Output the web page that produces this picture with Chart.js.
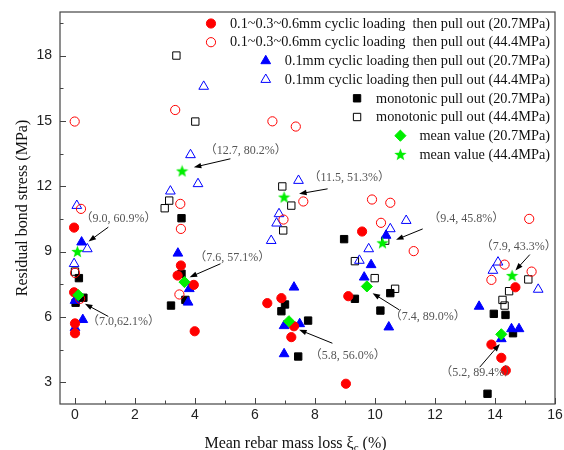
<!DOCTYPE html>
<html>
<head>
<meta charset="utf-8">
<script src="https://cdn.jsdelivr.net/npm/chart.js@4.4.1/dist/chart.umd.min.js"></script>
<style>
  body { margin: 0; background: #fff; }
  #wrap { width: 564px; height: 450px; }
</style>
</head>
<body>
<div id="wrap"><canvas id="myChart"></canvas></div>
<script>
// axis ticks
const xTicks = [0, 2, 4, 6, 8, 10, 12, 14, 16];
const xMinorTicks = [1, 3, 5, 7, 9, 11, 13, 15];
const yTicks = [3, 6, 9, 12, 15, 18];
const yMinorTicks = [4.5, 7.5, 10.5, 13.5, 16.5, 19.5];

// 0.1~0.3~0.6mm cyclic loading then pull out (20.7MPa)
const cyc3LowX = [-0.03, -0.03, 0.0, 0.0, 3.53, 3.42, 3.96, 3.99, 6.41, 6.88, 7.3, 7.21, 9.11, 9.03, 9.57, 14.68, 13.88, 14.21, 14.36];
const cyc3LowY = [10.1, 7.13, 5.7, 5.25, 8.36, 7.9, 7.47, 5.34, 6.63, 6.86, 5.57, 5.07, 6.95, 2.93, 9.92, 7.36, 4.73, 4.12, 3.54];
// 0.1~0.3~0.6mm cyclic loading then pull out (44.4MPa)
const cyc3HighX = [-0.01, 0.2, 0.0, 0.17, 3.34, 3.51, 3.53, 3.48, 6.58, 7.36, 7.61, 6.95, 9.9, 10.51, 10.2, 11.29, 15.14, 14.32, 13.88, 15.22];
const cyc3HighY = [14.97, 10.96, 8.02, 6.83, 15.5, 11.19, 10.04, 7.03, 14.98, 14.74, 11.3, 10.47, 11.39, 11.24, 10.32, 9.02, 10.5, 8.4, 7.7, 8.08];
// 0.1mm cyclic loading then pull out (20.7MPa)
const cyc1LowX = [0.22, 0.0, 0.26, 0.0, 3.43, 3.81, 3.77, 7.3, 6.97, 7.49, 6.97, 10.37, 9.87, 9.64, 10.46, 13.47, 14.55, 14.8, 14.21];
const cyc1LowY = [9.43, 6.75, 5.87, 5.5, 8.92, 7.29, 6.67, 7.36, 5.59, 5.68, 4.3, 9.74, 8.39, 7.82, 5.53, 6.48, 5.45, 5.45, 4.99];
// 0.1mm cyclic loading then pull out (44.4MPa)
const cyc1HighX = [0.06, 0.41, -0.03, 4.29, 3.85, 4.1, 3.18, 7.45, 6.8, 6.72, 6.54, 11.04, 10.51, 9.79, 9.48, 14.1, 13.93, 15.44];
const cyc1HighY = [11.11, 9.12, 8.44, 16.58, 13.44, 12.11, 11.77, 12.26, 10.73, 10.3, 9.5, 10.42, 10.04, 9.12, 8.59, 8.51, 8.13, 7.26];
// monotonic pull out (20.7MPa)
const monoLowX = [0.13, 0.28, 0.02, 3.55, 3.55, 3.68, 3.2, 7.0, 6.88, 7.77, 7.44, 8.97, 9.33, 10.51, 10.18, 13.96, 14.35, 14.6, 13.75];
const monoLowY = [7.78, 6.88, 6.65, 10.53, 7.98, 6.78, 6.52, 6.57, 6.26, 5.83, 4.18, 9.57, 6.83, 7.09, 6.29, 6.14, 6.09, 5.25, 2.47];
// monotonic pull out (44.4MPa)
const monoHighX = [0.0, 3.38, 4.01, 3.14, 2.99, 6.91, 7.21, 6.94, 10.34, 9.33, 9.99, 10.67, 15.11, 14.47, 14.25, 14.32];
const monoHighY = [8.08, 18.0, 14.97, 11.34, 10.99, 11.99, 11.11, 9.97, 9.5, 8.56, 7.78, 7.29, 7.72, 7.18, 6.78, 6.52];
// mean values
const meanLowX = [0.11, 3.65, 7.13, 9.73, 14.21];
const meanLowY = [7.0, 7.6, 5.8, 7.4, 5.2];
const meanHighX = [0.08, 3.57, 6.97, 10.25, 14.57];
const meanHighY = [9.0, 12.7, 11.5, 9.4, 7.9];

const seriesLabels = [
  "0.1~0.3~0.6mm cyclic loading  then pull out (20.7MPa)",
  "0.1~0.3~0.6mm cyclic loading  then pull out (44.4MPa)",
  "0.1mm cyclic loading then pull out (20.7MPa)",
  "0.1mm cyclic loading then pull out (44.4MPa)",
  "monotonic pull out (20.7MPa)",
  "monotonic pull out (44.4MPa)",
  "mean value (20.7MPa)",
  "mean value (44.4MPa)",
];

// label text, text position, arrow from -> to (data units)
const notes = [
  { text: "（9.0, 60.9%）", at: [1.45, 10.5], from: [1.11, 10.12], to: [0.45, 9.46] },
  { text: "（7.0,62.1%）", at: [1.62, 5.75], from: [1.11, 6.02], to: [0.33, 6.6] },
  { text: "（12.7, 80.2%）", at: [5.69, 13.64], from: [5.18, 13.26], to: [3.96, 12.87] },
  { text: "（7.6, 57.1%）", at: [5.24, 8.71], from: [4.85, 8.44], to: [3.82, 7.82] },
  { text: "（11.5, 51.3%）", at: [9.14, 12.38], from: [8.42, 11.88], to: [7.47, 11.65] },
  { text: "（9.4, 45.8%）", at: [13.04, 10.52], from: [11.59, 10.04], to: [10.7, 9.54] },
  { text: "（7.4, 89.0%）", at: [11.76, 6.02], from: [10.81, 6.32], to: [9.92, 7.09] },
  { text: "（5.8, 56.0%）", at: [9.09, 4.23], from: [8.58, 4.79], to: [7.47, 5.41] },
  { text: "（7.9, 43.3%）", at: [14.79, 9.23], from: [15.16, 8.86], to: [14.68, 8.13] },
  { text: "（5.2, 89.4%）", at: [13.44, 3.45], from: [13.49, 3.69], to: [14.16, 4.76] },
];

const SERIF = "'Liberation Serif', 'Times New Roman', serif";
const SANS = "'Liberation Sans', Arial, sans-serif";

function zip(xs, ys) {
  return xs.map((v, i) => ({ x: v, y: ys[i] }));
}

function makeStar(size, color) {
  const c = document.createElement("canvas");
  c.width = size;
  c.height = size;
  const g = c.getContext("2d");
  g.fillStyle = color;
  g.beginPath();
  for (let i = 0; i < 10; i++) {
    const r = i % 2 === 0 ? size / 2 : size / 4.8;
    const a = -Math.PI / 2 + (i * Math.PI) / 5;
    const px = size / 2 + r * Math.cos(a);
    const py = size / 2 + 0.5 + r * Math.sin(a);
    if (i === 0) g.moveTo(px, py);
    else g.lineTo(px, py);
  }
  g.closePath();
  g.fill();
  return c;
}
const starImg = makeStar(13, "#00ee00");

function series(i, xs, ys, style, fill, stroke, r, order) {
  return {
    label: seriesLabels[i],
    data: zip(xs, ys),
    pointStyle: style,
    backgroundColor: fill,
    borderColor: stroke,
    borderWidth: 1,
    pointRadius: r,
    showLine: false,
    order: order,
  };
}

const datasets = [
  series(0, cyc3LowX, cyc3LowY, "circle", "#ff0000", "#ff0000", 4.6, 1),
  series(1, cyc3HighX, cyc3HighY, "circle", "rgba(0,0,0,0)", "#ff0000", 4.6, 1),
  series(2, cyc1LowX, cyc1LowY, "triangle", "#0000ff", "#0000ff", 5.6, 1),
  series(3, cyc1HighX, cyc1HighY, "triangle", "rgba(0,0,0,0)", "#0000ff", 5.6, 1),
  series(4, monoLowX, monoLowY, "rect", "#000000", "#000000", 5.2, 1),
  series(5, monoHighX, monoHighY, "rect", "rgba(0,0,0,0)", "#000000", 5.2, 1),
  series(6, meanLowX, meanLowY, "rectRot", "#00ee00", "#00ee00", 5.6, 0),
  series(7, meanHighX, meanHighY, starImg, "#00ee00", "#00ee00", 6, 0),
];

function drawMarker(ctx, ds, cx, cy) {
  const r = ds.pointRadius;
  ctx.fillStyle = ds.backgroundColor;
  ctx.strokeStyle = ds.borderColor;
  ctx.lineWidth = ds.borderWidth;
  if (typeof ds.pointStyle !== "string") {
    const img = ds.pointStyle;
    ctx.drawImage(img, cx - img.width / 2, cy - img.height / 2);
    return;
  }
  ctx.beginPath();
  if (ds.pointStyle === "circle") {
    ctx.arc(cx, cy, r, 0, Math.PI * 2);
  } else if (ds.pointStyle === "triangle") {
    for (let k = 0; k < 3; k++) {
      const a = (k * 2 * Math.PI) / 3;
      const px = cx + Math.sin(a) * r;
      const py = cy - Math.cos(a) * r;
      if (k === 0) ctx.moveTo(px, py);
      else ctx.lineTo(px, py);
    }
    ctx.closePath();
  } else if (ds.pointStyle === "rect") {
    const s = r * Math.SQRT1_2;
    ctx.rect(cx - s, cy - s, 2 * s, 2 * s);
  } else if (ds.pointStyle === "rectRot") {
    ctx.moveTo(cx, cy - r);
    ctx.lineTo(cx + r, cy);
    ctx.lineTo(cx, cy + r);
    ctx.lineTo(cx - r, cy);
    ctx.closePath();
  }
  ctx.fill();
  ctx.stroke();
}

// chart.js reserves room for half tick labels at the ends, we do not want that
function noPad(s) {
  s.paddingTop = 0;
  s.paddingBottom = 0;
  s.paddingLeft = 0;
  s.paddingRight = 0;
}

const decorPlugin = {
  id: "decor",
  beforeDatasetsDraw(chart) {
    const { ctx, chartArea: a } = chart;
    const x = chart.scales.x;
    const y = chart.scales.y;
    ctx.save();
    ctx.strokeStyle = "#444";
    ctx.lineWidth = 1.2;
    ctx.strokeRect(a.left, a.top, a.right - a.left, a.bottom - a.top);
    ctx.beginPath();
    const tickX = (v, len) => {
      const px = Math.round(x.getPixelForValue(v)) + 0.5;
      ctx.moveTo(px, a.bottom);
      ctx.lineTo(px, a.bottom - len);
    };
    const tickY = (v, len) => {
      const py = Math.round(y.getPixelForValue(v)) + 0.5;
      ctx.moveTo(a.left, py);
      ctx.lineTo(a.left + len, py);
    };
    xTicks.forEach((v) => tickX(v, 6));
    xMinorTicks.forEach((v) => tickX(v, 3.5));
    yTicks.forEach((v) => tickY(v, 6));
    yMinorTicks.forEach((v) => tickY(v, 3.5));
    ctx.lineWidth = 1;
    ctx.stroke();
    ctx.restore();
  },
  afterDatasetsDraw(chart) {
    const { ctx, chartArea: a } = chart;
    const x = chart.scales.x;
    const y = chart.scales.y;
    ctx.save();

    // annotations
    ctx.font = "12px " + SERIF + ", 'Noto Sans CJK SC'";
    ctx.textAlign = "center";
    ctx.textBaseline = "middle";
    notes.forEach((n) => {
      ctx.fillStyle = "#555";
      ctx.fillText(n.text, x.getPixelForValue(n.at[0]), y.getPixelForValue(n.at[1]));
      const x1 = x.getPixelForValue(n.from[0]);
      const y1 = y.getPixelForValue(n.from[1]);
      const x2 = x.getPixelForValue(n.to[0]);
      const y2 = y.getPixelForValue(n.to[1]);
      const ang = Math.atan2(y2 - y1, x2 - x1);
      const head = 8;
      ctx.strokeStyle = "#000";
      ctx.lineWidth = 1;
      ctx.beginPath();
      ctx.moveTo(x1, y1);
      ctx.lineTo(x2 - Math.cos(ang) * head * 0.8, y2 - Math.sin(ang) * head * 0.8);
      ctx.stroke();
      ctx.fillStyle = "#000";
      ctx.beginPath();
      ctx.moveTo(x2, y2);
      ctx.lineTo(x2 - head * Math.cos(ang - 0.35), y2 - head * Math.sin(ang - 0.35));
      ctx.lineTo(x2 - head * Math.cos(ang + 0.35), y2 - head * Math.sin(ang + 0.35));
      ctx.closePath();
      ctx.fill();
    });

    // legend, right aligned inside the plot
    ctx.font = "14.3px " + SERIF;
    ctx.textAlign = "right";
    ctx.textBaseline = "middle";
    const right = a.right - 5;
    chart.data.datasets.forEach((ds, i) => {
      const ly = a.top + 11.5 + i * 18.7;
      const w = ctx.measureText(ds.label).width;
      drawMarker(ctx, ds, right - w - 19, ly);
      ctx.fillStyle = "#111";
      ctx.fillText(ds.label, right, ly + 0.5);
    });

    // x axis title with subscript
    const main = "Mean rebar mass loss \u03BE";
    const tail = " (%)";
    ctx.font = "16px " + SERIF;
    const w1 = ctx.measureText(main).width;
    const w3 = ctx.measureText(tail).width;
    ctx.font = "11px " + SERIF;
    const w2 = ctx.measureText("c").width;
    let tx = (a.left + a.right) / 2 - 12 - (w1 + w2 + w3) / 2;
    const ty = 443;
    ctx.textAlign = "left";
    ctx.textBaseline = "alphabetic";
    ctx.fillStyle = "#111";
    ctx.font = "16px " + SERIF;
    ctx.fillText(main, tx, ty + 5);
    ctx.font = "11px " + SERIF;
    ctx.fillText("c", tx + w1, ty + 8);
    ctx.font = "16px " + SERIF;
    ctx.fillText(tail, tx + w1 + w2, ty + 5);
    ctx.restore();
  },
};

new Chart("myChart", {
  type: "scatter",
  data: { datasets: datasets },
  plugins: [decorPlugin],
  options: {
    responsive: true,
    maintainAspectRatio: false,
    animation: false,
    events: [],
    layout: { padding: { top: 12, right: 9, left: 0, bottom: 0 } },
    plugins: {
      legend: { display: false },
      tooltip: { enabled: false },
    },
    scales: {
      x: {
        type: "linear",
        min: -0.5,
        max: 16,
        afterFit: (s) => { s.height = 46; noPad(s); },
        afterBuildTicks: (s) => { s.ticks = xTicks.map((v) => ({ value: v })); },
        grid: { display: false, drawTicks: false },
        border: { display: false },
        ticks: { color: "#222", padding: 3, font: { family: SANS, size: 14 } },
      },
      y: {
        type: "linear",
        min: 2,
        max: 20,
        afterFit: (s) => { s.width = 60; noPad(s); },
        afterBuildTicks: (s) => { s.ticks = yTicks.map((v) => ({ value: v })); },
        grid: { display: false, drawTicks: false },
        border: { display: false },
        ticks: { color: "#222", padding: 8, font: { family: SANS, size: 14 } },
        title: {
          display: true,
          text: "Residual bond stress (MPa)",
          color: "#111",
          font: { family: SERIF, size: 16 },
          padding: { top: 13, bottom: 0 },
        },
      },
    },
  },
});
</script>
</body>
</html>
